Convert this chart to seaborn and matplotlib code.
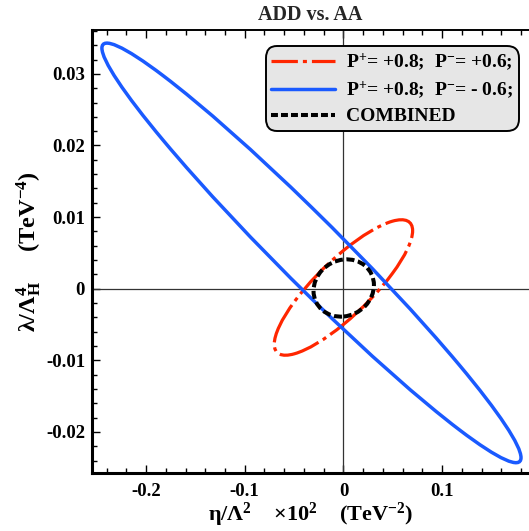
import numpy as np
import matplotlib
matplotlib.use('Agg')
import matplotlib.pyplot as plt
import seaborn as sns
from matplotlib.patches import Ellipse
from matplotlib.lines import Line2D
from matplotlib.transforms import Affine2D
from matplotlib.ticker import FixedLocator, MultipleLocator, FuncFormatter

sns.set_theme(style='ticks')
plt.rcParams['font.family'] = ['Liberation Serif', 'DejaVu Serif']
plt.rcParams['font.weight'] = 'bold'
plt.rcParams['mathtext.fontset'] = 'custom'
plt.rcParams['mathtext.rm'] = 'Liberation Serif:bold'
plt.rcParams['mathtext.bf'] = 'Liberation Serif:bold'
plt.rcParams['mathtext.it'] = 'Liberation Serif:bold'
plt.rcParams['mathtext.default'] = 'rm'
plt.rcParams['axes.unicode_minus'] = False
plt.rcParams['lines.scale_dashes'] = False

# contours: centre, half extent in x / y, correlation
labels = ['P$^{+}$= +0.8;  P$^{-}$= +0.6;',
          'P$^{+}$= +0.8;  P$^{-}$= - 0.6;',
          'COMBINED']
center_x = [0.0, -0.0324, 0.0003]
center_y = [0.00017, 0.0050, 0.0001]
half_x = [0.0701, 0.2123, 0.0306]
half_y = [0.00946, 0.0293, 0.0040]
corr = [0.838, -0.976, 0.1]

x_ticks = [-0.2, -0.1, 0.0, 0.1]
y_ticks = [-0.02, -0.01, 0.0, 0.01, 0.02, 0.03]

# styles
colors = ['#ff2600', '#1a5aff', 'black']
widths = [2.3, 2.5, 2.9]
styles = [(0, (30, 3.6, 2.9, 3.6)), 'solid', (0, (5.8, 2.6))]
legend_styles = [(0, (19, 3.6, 2.9, 3.6)), 'solid', (0, (5.0, 2.2))]


def contour(ax, cx, cy, sx, sy, rho, color, lw, ls):
    cov = np.array([[sx * sx, rho * sx * sy], [rho * sx * sy, sy * sy]])
    L = np.linalg.cholesky(cov)
    m = np.array([[L[0, 0], L[0, 1], cx], [L[1, 0], L[1, 1], cy], [0, 0, 1]])
    e = Ellipse((0, 0), 2, 2, fill=False, edgecolor=color, linewidth=lw,
                linestyle=ls, zorder=3)
    e.set_transform(Affine2D(m) + ax.transData)
    ax.add_patch(e)


fig = plt.figure(figsize=(5.29, 5.31), dpi=100)
ax = fig.add_axes([0.174, 0.1092, 0.826, 0.8343])

ax.axhline(0, color='#333333', lw=0.9, zorder=1)
ax.axvline(0, color='#333333', lw=0.9, zorder=1)

for i in range(3):
    contour(ax, center_x[i], center_y[i], half_x[i], half_y[i], corr[i],
            colors[i], widths[i], styles[i])

ax.set_xlim(-0.2547, 0.188)
ax.set_ylim(-0.02574, 0.03613)

ax.xaxis.set_major_locator(FixedLocator(x_ticks))
ax.yaxis.set_major_locator(FixedLocator(y_ticks))
ax.xaxis.set_minor_locator(MultipleLocator(0.02))
ax.yaxis.set_minor_locator(MultipleLocator(0.002))
fmt = FuncFormatter(lambda v, p: '0' if abs(v) < 1e-12 else '%g' % v)
ax.xaxis.set_major_formatter(fmt)
ax.yaxis.set_major_formatter(fmt)

ax.tick_params(which='both', direction='in', top=True, right=False,
               color='black', width=1.0, labelsize=13.5, labelcolor='black')
ax.tick_params(which='major', length=6)
ax.tick_params(which='minor', length=3.5)
ax.tick_params(axis='x', pad=7)
ax.tick_params(axis='y', pad=5)

for s in ['left', 'bottom']:
    ax.spines[s].set_linewidth(2.2)
    ax.spines[s].set_color('black')
ax.spines['top'].set_linewidth(1.4)
ax.spines['top'].set_color('black')
ax.spines['right'].set_visible(False)

ax.set_title('ADD vs. AA', fontsize=14.5, fontweight='bold', pad=7)
ax.set_xlabel('η/Λ$^{2}$    ×10$^{2}$    (TeV$^{-2}$)', fontsize=16,
              fontweight='bold', color='black', va='bottom')
ax.set_ylabel('λ/Λ$_{H}^{4}$     (TeV$^{-4}$)', fontsize=17.5,
              fontweight='bold', color='black')
ax.xaxis.set_label_coords(0.5, -0.126)
ax.yaxis.set_label_coords(-0.11, 0.5)

handles = [Line2D([], [], color=colors[i], lw=widths[i], linestyle=legend_styles[i])
           for i in range(3)]
leg = ax.legend(handles, labels, loc='upper right',
                bbox_to_anchor=(519 / 529, 1 - 46 / 531),
                bbox_transform=fig.transFigure, borderaxespad=0,
                fontsize=14, handlelength=3.25, handletextpad=0.6,
                labelspacing=0.35, borderpad=0.3, fancybox=True,
                framealpha=1, facecolor='#e6e6e6', edgecolor='black')
leg.get_frame().set_linewidth(1.4)
leg.get_frame().set_boxstyle('round', pad=0, rounding_size=0.6)
for t in leg.get_texts():
    t.set_color('black')

fig.savefig('out.png', dpi=100)
